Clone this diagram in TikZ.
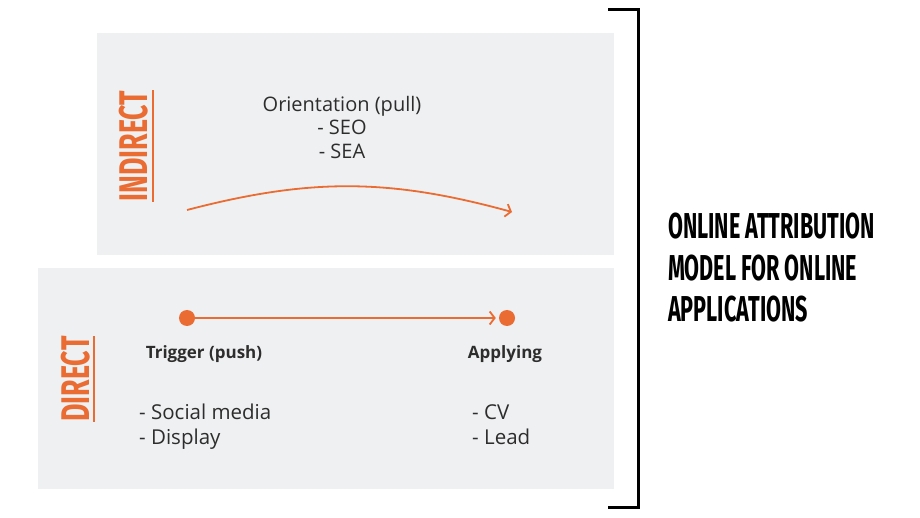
\documentclass[tikz,border=0pt]{standalone}
\usepackage{fontspec}
\setmainfont{Open Sans}
\newfontfamily\headfont[FakeStretch=0.67]{Fira Sans}
\newfontfamily\titlefont[FakeStretch=0.6]{Fira Sans}
\usetikzlibrary{arrows.meta}
\usetikzlibrary{positioning}
\definecolor{panelgrey}{RGB}{239,240,242}
\definecolor{accent}{RGB}{234,108,50}
\definecolor{textgrey}{RGB}{45,45,45}
\tikzstyle{panel} = [rectangle, fill=panelgrey, inner sep=0pt, anchor=north west]
\tikzstyle{sidelabel} = [rotate=90, anchor=base, inner sep=0pt, text=accent, font=\headfont\bfseries\fontsize{40}{40}\selectfont]
\tikzstyle{underline} = [draw=accent, line width=1.4pt]
\tikzstyle{dot} = [circle, fill=accent, minimum size=16pt, inner sep=0pt]
\tikzstyle{flow} = [draw=accent, line width=1.8pt, -{Straight Barb[length=5pt,width=13pt]}]
\tikzstyle{bodytext} = [inner sep=0pt, text=textgrey, font=\fontsize{20.5}{25}\selectfont, align=left, anchor=north west]
\tikzstyle{steptext} = [inner sep=0pt, text=textgrey, font=\bfseries\fontsize{17}{20}\selectfont, anchor=base]

\begin{document}
\begin{tikzpicture}[x=1pt,y=-1pt]
  \useasboundingbox (0,0) rectangle (920,518);

  % panels
  \node (indpanel) [panel, minimum width=517pt, minimum height=222pt] at (97,33) {};
  \node (dirpanel) [panel, minimum width=576pt, minimum height=221pt] at (38,268) {};

  % side labels
  \node (indlabel) [sidelabel] at (147,146) {INDIRECT};
  \draw[underline] ([xshift=5pt]indlabel.south west) -- ([xshift=5pt]indlabel.south east);
  \node (dirlabel) [sidelabel] at (89,379) {DIRECT};
  \draw[underline] ([xshift=4pt]dirlabel.south west) -- ([xshift=4pt]dirlabel.south east);

  % indirect channel
  \node (pulltxt) [inner sep=0pt, text=textgrey, align=center, anchor=north,
    font=\fontsize{20}{23.5}\selectfont] at (342,96) {Orientation (pull)\\- SEO\\- SEA};
  \coordinate (pullstart) at (187,210);
  \coordinate (pullend) at (512,212);
  \draw[flow] (pullstart) to[bend left=15] (pullend);

  % direct channel
  \node (trigger) [dot] at (187,318) {};
  \node (applying) [dot] at (507,318) {};
  \draw[flow, shorten >=3pt] (trigger) -- (applying);
  \node (triggertxt) [steptext] at (204,358) {Trigger (push)};
  \node (applyingtxt) [steptext] at (505,358) {Applying};
  \node (pushlist) [bodytext] at (139,404) {- Social media\\- Display};
  \node (applylist) [bodytext] at (472,404) {- CV\\- Lead};

  % bracket and title
  \draw[line width=3pt] (608,10) -- (638,10) -- (638,507) -- (608,507);
  \node (title) [inner sep=0pt, anchor=north west, align=left,
    font=\titlefont\bfseries\fontsize{36}{41.5}\selectfont]
    at (668,213) {ONLINE ATTRIBUTION\\MODEL FOR ONLINE\\APPLICATIONS};
\end{tikzpicture}
\end{document}
